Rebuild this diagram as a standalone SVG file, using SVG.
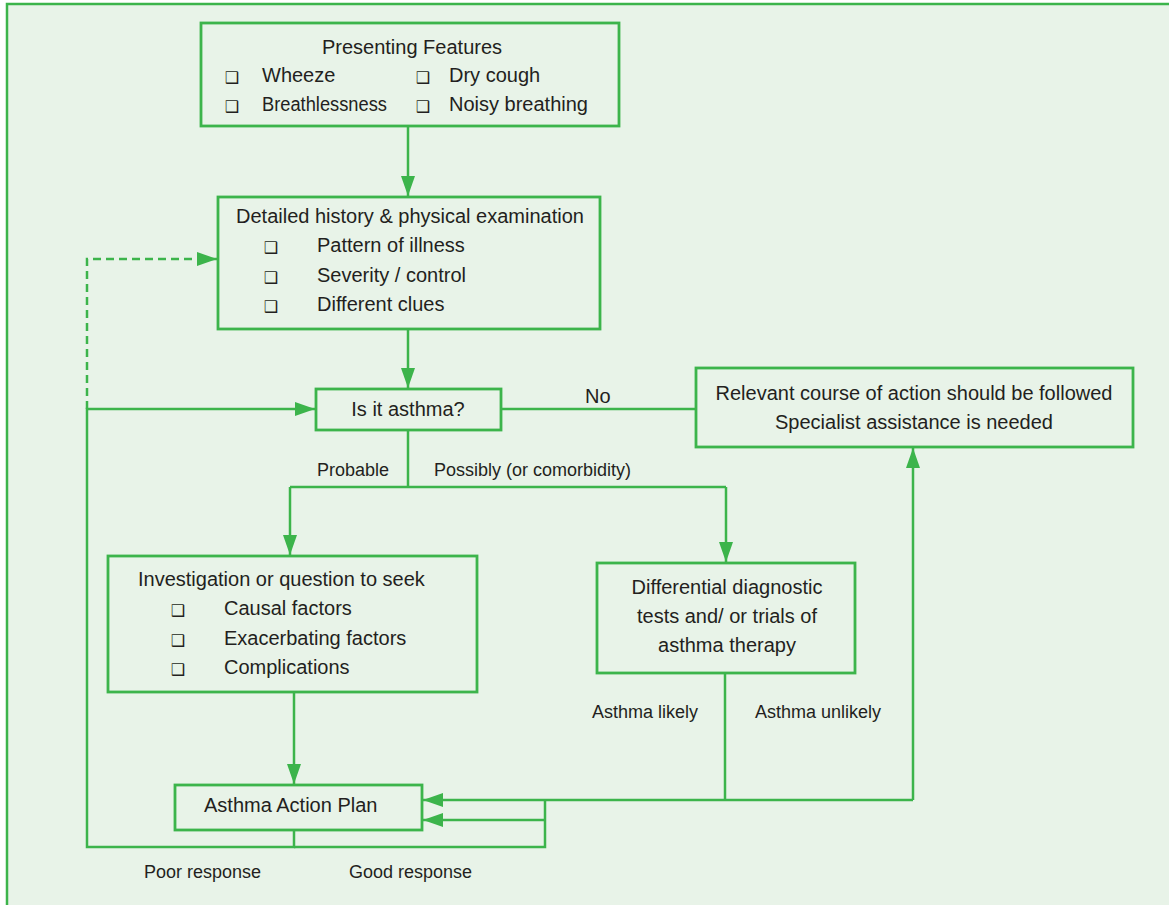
<svg xmlns="http://www.w3.org/2000/svg" width="1169" height="905" viewBox="0 0 1169 905">
<defs>
<style>
.frame{fill:#e8f3e8;stroke:#3cb44b;stroke-width:2.5}
.box{fill:#e8f3e8;stroke:#3cb44b;stroke-width:2.8}
.ln{fill:none;stroke:#3cb44b;stroke-width:2.5}
.dash{stroke-dasharray:8 5}
.t{font-family:"Liberation Sans",Arial,sans-serif;font-size:20px;fill:#231f20}
.s{font-family:"Liberation Sans",Arial,sans-serif;font-size:18px;fill:#231f20}
.b{font-family:"DejaVu Sans",sans-serif;font-size:16px;fill:#231f20;text-anchor:middle}
.c{text-anchor:middle}
</style>
<marker id="ah" viewBox="0 0 20 14" refX="20" refY="7" markerWidth="20" markerHeight="14" markerUnits="userSpaceOnUse" orient="auto">
<path d="M0,0 L20,7 L0,14 Z" fill="#3cb44b"/>
</marker>
</defs>
<rect class="frame" x="7" y="4" width="1175" height="915"/>

<g id="connectors">
<line class="ln" x1="408" y1="127" x2="408" y2="196" marker-end="url(#ah)"/>
<line class="ln" x1="408" y1="329" x2="408" y2="388" marker-end="url(#ah)"/>
<line class="ln" x1="501" y1="409" x2="695" y2="409"/>
<polyline class="ln" points="408,430 408,487"/>
<polyline class="ln" points="290,487 726,487"/>
<line class="ln" x1="290" y1="487" x2="290" y2="555" marker-end="url(#ah)"/>
<line class="ln" x1="726" y1="487" x2="726" y2="562" marker-end="url(#ah)"/>
<line class="ln" x1="294" y1="692" x2="294" y2="784" marker-end="url(#ah)"/>
<polyline class="ln" points="725,673 725,800"/>
<polyline class="ln" points="913,800 545,800 423,800" marker-end="url(#ah)"/>
<line class="ln" x1="913" y1="800" x2="913" y2="448" marker-end="url(#ah)"/>
<polyline class="ln" points="545,800 545,847 294,847"/>
<line class="ln" x1="545" y1="820" x2="423" y2="820" marker-end="url(#ah)"/>
<polyline class="ln" points="294,830 294,847 87,847 87,409 315,409" marker-end="url(#ah)"/>
<polyline class="ln dash" points="87,409 87,259 217,259" marker-end="url(#ah)"/>
<text class="t" x="585" y="403">No</text>
<text class="s" x="317" y="476">Probable</text>
<text class="s" x="434" y="476">Possibly (or comorbidity)</text>
<text class="s" x="592" y="718">Asthma likely</text>
<text class="s" x="755" y="718">Asthma unlikely</text>
<text class="s" x="144" y="878">Poor response</text>
<text class="s" x="349" y="878">Good response</text>
</g>

<g id="presenting">
<rect class="box" x="201" y="23" width="418" height="103"/>
<text class="t c" x="412" y="54">Presenting Features</text>
<text class="b" x="232" y="83">❑</text>
<text class="t" x="262" y="82">Wheeze</text>
<text class="b" x="423" y="83">❑</text>
<text class="t" x="449" y="82">Dry cough</text>
<text class="b" x="232" y="112">❑</text>
<text class="t" x="262" y="111" textLength="125" lengthAdjust="spacingAndGlyphs">Breathlessness</text>
<text class="b" x="423" y="112">❑</text>
<text class="t" x="449" y="111">Noisy breathing</text>
</g>

<g id="history">
<rect class="box" x="218" y="197" width="382" height="132"/>
<text class="t c" x="410" y="223">Detailed history &amp; physical examination</text>
<text class="b" x="271" y="253">❑</text>
<text class="t" x="317" y="252">Pattern of illness</text>
<text class="b" x="271" y="283">❑</text>
<text class="t" x="317" y="282">Severity / control</text>
<text class="b" x="271" y="312">❑</text>
<text class="t" x="317" y="311">Different clues</text>
</g>

<g id="is-asthma">
<rect class="box" x="316" y="389" width="185" height="41"/>
<text class="t c" x="408" y="416">Is it asthma?</text>
</g>

<g id="relevant">
<rect class="box" x="696" y="368" width="437" height="79"/>
<text class="t c" x="914" y="400">Relevant course of action should be followed</text>
<text class="t c" x="914" y="429">Specialist assistance is needed</text>
</g>

<g id="investigation">
<rect class="box" x="108" y="556" width="369" height="136"/>
<text class="t" x="138" y="586">Investigation or question to seek</text>
<text class="b" x="178" y="616">❑</text>
<text class="t" x="224" y="615">Causal factors</text>
<text class="b" x="178" y="646">❑</text>
<text class="t" x="224" y="645">Exacerbating factors</text>
<text class="b" x="178" y="675">❑</text>
<text class="t" x="224" y="674">Complications</text>
</g>

<g id="differential">
<rect class="box" x="597" y="563" width="258" height="110"/>
<text class="t c" x="727" y="594">Differential diagnostic</text>
<text class="t c" x="727" y="623">tests and/ or trials of</text>
<text class="t c" x="727" y="652">asthma therapy</text>
</g>

<g id="action-plan">
<rect class="box" x="175" y="785" width="247" height="45"/>
<text class="t" x="204" y="812">Asthma Action Plan</text>
</g>
</svg>
